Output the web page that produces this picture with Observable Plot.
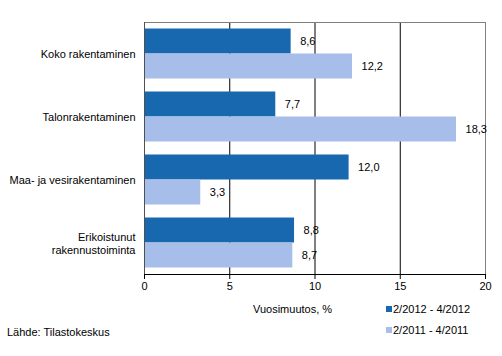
<!DOCTYPE html>
<html>
<head>
<meta charset="utf-8">
<script src="https://cdn.jsdelivr.net/npm/d3@7"></script>
<script src="https://cdn.jsdelivr.net/npm/@observablehq/plot@0.6"></script>
<style>
  body { margin: 0; background: #fff; }
  #wrap { position: relative; width: 502px; height: 356px; font-family: "Liberation Sans", Arial, sans-serif; font-size: 11px; color: #000; }
  #wrap svg { position: absolute; left: 0; top: 0; }
  .abs { position: absolute; white-space: nowrap; line-height: 13px; }
  .sw { display: inline-block; width: 6px; height: 6px; margin-right: 1px; vertical-align: 1px; }
</style>
</head>
<body>
<div id="wrap"></div>
<script>
const categories = ["Koko rakentaminen", "Talonrakentaminen", "Maa- ja vesirakentaminen", "Erikoistunut\nrakennustoiminta"];
const seriesNames = ["2/2012 - 4/2012", "2/2011 - 4/2011"];
const values2012 = [8.6, 7.7, 12.0, 8.8];
const values2011 = [12.2, 18.3, 3.3, 8.7];
const xTicks = [0, 5, 10, 15, 20];
const axisTitle = "Vuosimuutos, %";
const source = "Lähde: Tilastokeskus";

const colors = ["#1868B0", "#A8BEEA"];
const rows2012 = categories.map((c, i) => ({category: c, value: values2012[i]}));
const rows2011 = categories.map((c, i) => ({category: c, value: values2011[i]}));
const fmt = v => d3.format(".1f")(v).replace(".", ",");

const chart = Plot.plot({
  width: 502,
  height: 356,
  marginTop: 22,
  marginLeft: 144,
  marginRight: 17,
  marginBottom: 82,
  style: {fontFamily: "Liberation Sans, Arial, sans-serif", fontSize: "11px", color: "#000", background: "transparent"},
  x: {domain: [0, 20]},
  y: {domain: categories, padding: 0},
  marks: [
    Plot.ruleX([5, 10, 15], {stroke: "#000", strokeWidth: 1}),
    Plot.barX(rows2012, {x: "value", y: "category", fill: colors[0], insetTop: 6.5, insetBottom: 31.5}),
    Plot.barX(rows2011, {x: "value", y: "category", fill: colors[1], insetTop: 31.5, insetBottom: 6.5}),
    Plot.frame({stroke: "#808080"}),
    Plot.ruleX([0], {stroke: "#505050"}),
    Plot.frame({anchor: "bottom", stroke: "#000"}),
    Plot.axisX({ticks: xTicks, tickSize: 5, tickPadding: 3, tickFormat: d => String(d), label: null}),
    Plot.axisY({tickSize: 0, tickPadding: 9, label: null, lineHeight: 1.2}),
    Plot.text(rows2012, {x: "value", y: "category", text: d => fmt(d.value), dy: -12.5, dx: 9, textAnchor: "start", fill: "#000"}),
    Plot.text(rows2011, {x: "value", y: "category", text: d => fmt(d.value), dy: 12.5, dx: 9, textAnchor: "start", fill: "#000"})
  ]
});

const wrap = document.getElementById("wrap");
wrap.appendChild(chart);

function addText(html, left, top) {
  const d = document.createElement("div");
  d.className = "abs";
  d.style.left = left + "px";
  d.style.top = top + "px";
  d.innerHTML = html;
  wrap.appendChild(d);
  return d;
}
addText(axisTitle, 253, 303);
addText(`<span class="sw" style="background:${colors[0]}"></span>${seriesNames[0]}`, 386, 303);
addText(`<span class="sw" style="background:${colors[1]}"></span>${seriesNames[1]}`, 386, 324);
addText(source, 7, 326);
</script>
</body>
</html>
